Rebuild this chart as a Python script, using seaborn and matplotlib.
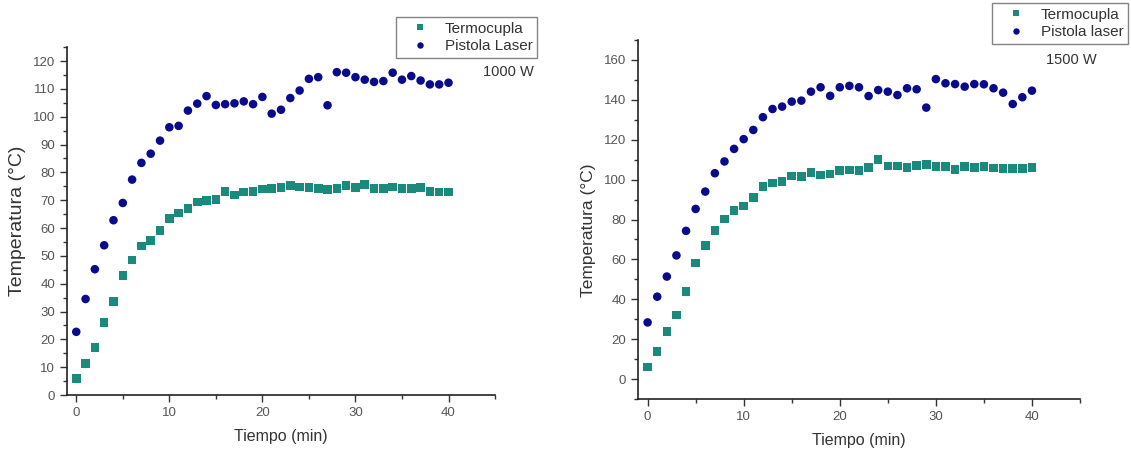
import numpy as np
import pandas as pd
import matplotlib
matplotlib.use("Agg")
import matplotlib.pyplot as plt
from matplotlib.ticker import MultipleLocator
import seaborn as sns

# Time axis (minutes)
tiempo = list(range(0, 41))

# 1000 W run
termocupla_1000 = [6.0, 11.4, 17.0, 26.1, 33.7, 43.0, 48.5, 53.6, 55.6, 59.1,
                   63.4, 65.4, 67.0, 69.4, 69.8, 70.2, 73.2, 71.9, 73.0, 73.2,
                   74.0, 74.1, 74.5, 75.2, 74.8, 74.5, 74.3, 73.8, 74.1, 75.2,
                   74.5, 75.6, 74.1, 74.1, 74.8, 74.3, 74.3, 74.5, 73.1, 72.9,
                   72.9]
pistola_1000 = [22.7, 34.5, 45.2, 53.8, 62.8, 69.0, 77.4, 83.4, 86.7, 91.4,
                96.2, 96.7, 102.2, 104.7, 107.4, 104.2, 104.5, 104.8, 105.5, 104.5,
                107.1, 101.1, 102.5, 106.7, 109.4, 113.6, 114.2, 104.1, 116.0, 115.8,
                114.2, 113.3, 112.5, 112.8, 115.8, 113.3, 114.6, 113.0, 111.6, 111.6,
                112.2]

# 1500 W run
termocupla_1500 = [6.0, 13.9, 23.9, 32.1, 43.8, 58.3, 67.1, 74.5, 80.3, 84.5,
                   86.8, 91.0, 96.5, 98.2, 99.0, 101.9, 101.5, 103.5, 102.4, 102.9,
                   104.5, 104.9, 104.7, 106.2, 110.2, 106.9, 106.9, 106.2, 107.2, 107.5,
                   106.5, 106.5, 105.2, 106.5, 106.2, 106.5, 105.9, 105.5, 105.5, 105.5,
                   106.2]
pistola_1500 = [28.4, 41.3, 51.4, 62.0, 74.3, 85.3, 94.0, 103.2, 109.1, 115.4,
                120.3, 124.9, 131.3, 135.4, 136.6, 139.1, 139.6, 144.1, 146.3, 142.0,
                146.3, 147.0, 146.3, 141.9, 144.9, 144.1, 142.4, 145.8, 145.3, 136.1,
                150.4, 148.3, 147.9, 146.6, 147.9, 147.8, 145.8, 143.6, 137.9, 141.3,
                144.6]

COL_TERMO = "#1a8a7c"
COL_PISTOLA = "#0a0a8c"
TEXT_COL = "#333333"

sns.set_theme(style="white")
plt.rcParams["font.family"] = ["Liberation Sans", "DejaVu Sans"]


def long_frame(termo, pistola, laser_label):
    return pd.DataFrame({
        "Tiempo": tiempo + tiempo,
        "Temperatura": termo + pistola,
        "Serie": ["Termocupla"] * len(termo) + [laser_label] * len(pistola),
    })


fig = plt.figure(figsize=(11.31, 4.53), dpi=100)
ax1 = fig.add_axes([0.0592, 0.128, 0.3785, 0.768])
ax2 = fig.add_axes([0.5641, 0.1192, 0.3908, 0.7925])

panels = [
    dict(ax=ax1, df=long_frame(termocupla_1000, pistola_1000, "Pistola Laser"),
         laser="Pistola Laser", ylim=(0, 125), ymaj=10, ymin=5, power="1000 W",
         box=(537, 17), txt=(534, 72), ylabel_size=14, ylabel_xy=(-0.096, 0.5)),
    dict(ax=ax2, df=long_frame(termocupla_1500, pistola_1500, "Pistola laser"),
         laser="Pistola laser", ylim=(-10, 170), ymaj=20, ymin=10, power="1500 W",
         box=(1128, 3), txt=(1097, 60), ylabel_size=12.5, ylabel_xy=(-0.095, 0.47)),
]

W, H = 1131, 453
for p in panels:
    ax, df, laser, ylim = p["ax"], p["df"], p["laser"], p["ylim"]
    sns.scatterplot(
        data=df, x="Tiempo", y="Temperatura", hue="Serie", style="Serie",
        hue_order=["Termocupla", laser], style_order=["Termocupla", laser],
        palette={"Termocupla": COL_TERMO, laser: COL_PISTOLA},
        markers={"Termocupla": "s", laser: "o"},
        s=38, linewidth=0, ax=ax, legend=True,
    )
    ax.set_xlim(-1, 45)
    ax.set_ylim(*ylim)
    ax.xaxis.set_major_locator(MultipleLocator(10))
    ax.xaxis.set_minor_locator(MultipleLocator(5))
    ax.yaxis.set_major_locator(MultipleLocator(p["ymaj"]))
    ax.yaxis.set_minor_locator(MultipleLocator(p["ymin"]))
    ax.set_yticks([t for t in ax.get_yticks() if 0 <= t <= ylim[1] - 1])
    ax.tick_params(axis="both", which="major", direction="out", length=5, width=1,
                   color=TEXT_COL, labelsize=9.5, labelcolor="#555555",
                   bottom=True, left=True)
    ax.tick_params(axis="both", which="minor", direction="out", length=3, width=1,
                   color=TEXT_COL, bottom=True, left=True)
    for side in ("top", "right"):
        ax.spines[side].set_visible(False)
    for side in ("left", "bottom"):
        ax.spines[side].set_color("#222222")
        ax.spines[side].set_linewidth(1.2)
    ax.set_xlabel("Tiempo (min)", fontsize=11.5, color=TEXT_COL, labelpad=7)
    ax.set_ylabel("Temperatura (°C)", fontsize=p["ylabel_size"], color=TEXT_COL)
    ax.yaxis.set_label_coords(*p["ylabel_xy"])

    # Legend placed above the plot area, in figure pixel coordinates
    handles, labels = ax.get_legend_handles_labels()
    ax.get_legend().remove()
    bx, by = p["box"]
    leg = fig.legend(
        handles, labels, loc="upper right",
        bbox_to_anchor=(bx / W, 1 - by / H), bbox_transform=fig.transFigure,
        frameon=True, fancybox=False, fontsize=11, markerscale=0.75,
        handletextpad=0.3, borderpad=0.3, labelspacing=0.25, handlelength=2.6,
        borderaxespad=0.0,
    )
    leg.get_frame().set_edgecolor("#666666")
    leg.get_frame().set_linewidth(1.0)
    for t in leg.get_texts():
        t.set_color(TEXT_COL)

    fig.text(p["txt"][0] / W, 1 - p["txt"][1] / H, p["power"], ha="right",
             va="center", fontsize=10.5, color=TEXT_COL)

fig.savefig("out.png", dpi=100)
